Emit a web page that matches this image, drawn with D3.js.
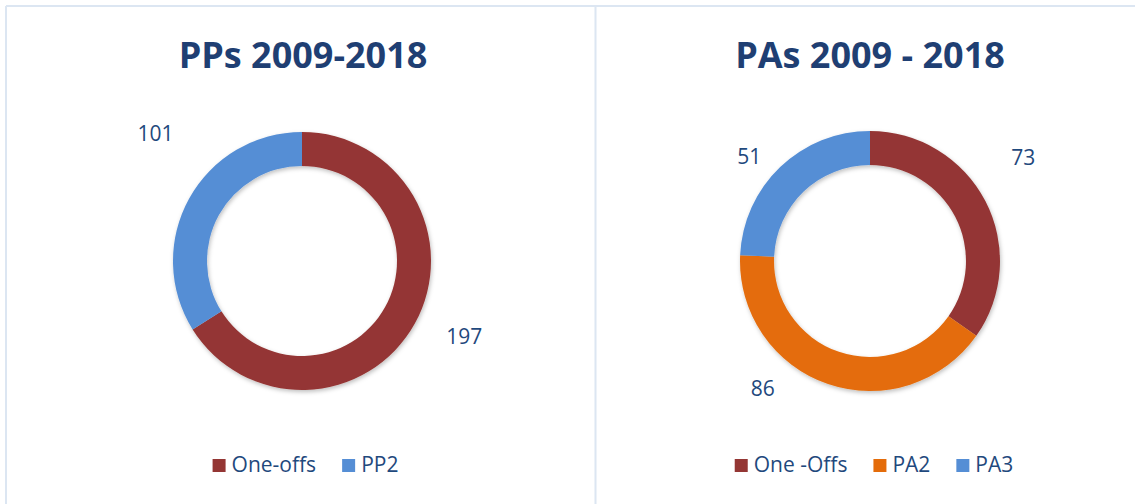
<!DOCTYPE html>
<html><head><meta charset="utf-8">
<script src="https://cdn.jsdelivr.net/npm/d3@7"></script>
<style>
html,body{margin:0;padding:0;background:#fff;}
svg{display:block;}
text{font-family:"Open Sans",sans-serif;}
</style></head>
<body>
<svg id="chart" width="1135" height="504"></svg>
<script>
// ---- data ----
const ppTitle = "PPs 2009-2018";
const ppCategories = ["One-offs", "PP2"];
const ppValues = [197, 101];

const paTitle = "PAs 2009 - 2018";
const paCategories = ["One -Offs", "PA2", "PA3"];
const paValues = [73, 86, 51];

// ---- styles / layout ----
const colorMap = {"One-offs":"#943634","One -Offs":"#943634","PP2":"#558ED5","PA2":"#E46C0A","PA3":"#558ED5"};
const textColor = "#1F497D";
const borderColor = "#dce6f2";

const svg = d3.select("#chart");
const defs = svg.append("defs");
const f = defs.append("filter").attr("id","shadow").attr("x","-20%").attr("y","-20%").attr("width","140%").attr("height","140%");
f.append("feDropShadow").attr("dx",1).attr("dy",2).attr("stdDeviation",2).attr("flood-color","#000").attr("flood-opacity",0.25);

// borders
svg.append("line").attr("x1",6).attr("x2",1135).attr("y1",6).attr("y2",6).attr("stroke",borderColor).attr("stroke-width",2);
svg.append("line").attr("x1",6).attr("x2",6).attr("y1",6).attr("y2",504).attr("stroke",borderColor).attr("stroke-width",2);
svg.append("line").attr("x1",595.5).attr("x2",595.5).attr("y1",6).attr("y2",504).attr("stroke",borderColor).attr("stroke-width",2);

const charts = [
  {title: ppTitle, cats: ppCategories, vals: ppValues, cx: 302, cy: 261, ro: 129, ri: 95,
   titleX: 303, labelPos: [{a:115, r:179}, {a:311, r:194}], legendCx: 305.5},
  {title: paTitle, cats: paCategories, vals: paValues, cx: 870, cy: 261, ro: 130, ri: 96,
   titleX: 870, labelPos: [{a:56, r:185}, {a:220, r:167}, {a:311, r:160}], legendCx: 874}
];

charts.forEach(ch => {
  const g = svg.append("g");
  g.append("text").attr("x", ch.titleX).attr("y", 68).attr("text-anchor","middle")
    .attr("font-size", 36).attr("font-weight", 700).attr("fill", "#1F3F73").text(ch.title);

  const data = ch.cats.map((c,i)=>({cat:c, val:ch.vals[i]}));
  const pie = d3.pie().value(d=>d.val).sort(null);
  const arc = d3.arc().innerRadius(ch.ri).outerRadius(ch.ro);
  const arcs = pie(data);
  const dg = g.append("g").attr("transform",`translate(${ch.cx},${ch.cy})`).attr("filter","url(#shadow)");
  dg.selectAll("path").data(arcs).join("path").attr("d", arc).attr("fill", d=>colorMap[d.data.cat]);

  // labels
  const lg = g.append("g").attr("transform",`translate(${ch.cx},${ch.cy})`);
  lg.selectAll("text").data(arcs).join("text")
    .attr("x",(d,i)=>ch.labelPos[i].r*Math.sin(ch.labelPos[i].a*Math.PI/180))
    .attr("y",(d,i)=>-ch.labelPos[i].r*Math.cos(ch.labelPos[i].a*Math.PI/180))
    .attr("dy","0.36em").attr("text-anchor","middle")
    .attr("font-size",21).attr("fill",textColor).text(d=>d.data.val);

  // legend
  const leg = g.append("g");
  const items = leg.selectAll("g").data(data).join("g");
  items.append("rect").attr("width",13).attr("height",13).attr("fill",d=>colorMap[d.cat]);
  items.append("text").attr("x",19).attr("y",13).attr("font-size",21).attr("fill",textColor).text(d=>d.cat);
  let x = 0;
  items.each(function(){
    const t = d3.select(this).select("text").node().getComputedTextLength();
    d3.select(this).attr("transform",`translate(${x},0)`);
    x += 19 + t + 26;
  });
  const total = x - 26;
  leg.attr("transform",`translate(${ch.legendCx - total/2},459)`);
});
</script>
</body></html>
